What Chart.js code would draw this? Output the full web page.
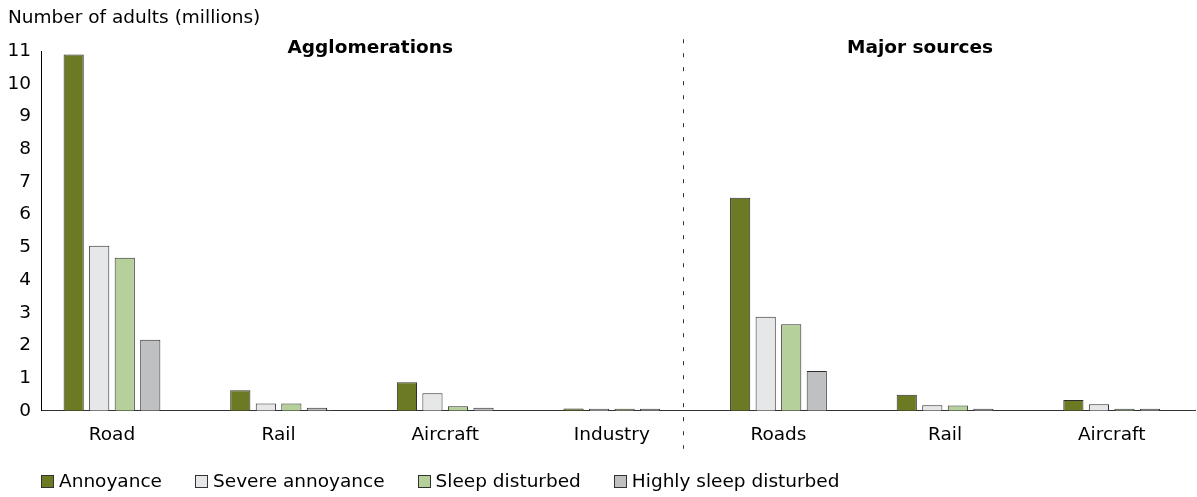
<!DOCTYPE html>
<html>
<head>
<meta charset="utf-8">
<script src="https://cdn.jsdelivr.net/npm/chart.js@4/dist/chart.umd.min.js"></script>
<style>
    body { margin: 0; background: #fff; font-family: "DejaVu Sans", Verdana, sans-serif; }
    #wrap { position: relative; width: 1197px; height: 497px; }
    #legend { position: absolute; left: 41px; top: 471px; display: flex; font-size: 18.5px; color: #000; line-height: 20px; }
    #legend .item { display: flex; align-items: center; margin-right: 33px; }
    #legend .box { width: 13px; height: 13px; border: 1px solid #333; margin-right: 5px; box-sizing: border-box; }
</style>
</head>
<body>
<div id="wrap">
    <canvas id="noiseChart"></canvas>
    <div id="legend"></div>
</div>
<script>
// Categorias (eje x) y series
const categories = ['Road', 'Rail', 'Aircraft', 'Industry', 'Roads', 'Rail', 'Aircraft'];
const annoyance = [10.9, 0.63, 0.87, 0.07, 6.52, 0.49, 0.33];
const severeAnnoyance = [5.05, 0.22, 0.54, 0.04, 2.88, 0.17, 0.2];
const sleepDisturbed = [4.68, 0.22, 0.14, 0.03, 2.65, 0.16, 0.05];
const highlySleepDisturbed = [2.17, 0.09, 0.09, 0.02, 1.22, 0.05, 0.04];
const yTicks = [0, 1, 2, 3, 4, 5, 6, 7, 8, 9, 10, 11];

const seriesNames = ['Annoyance', 'Severe annoyance', 'Sleep disturbed', 'Highly sleep disturbed'];
const seriesColors = ['#6b7a23', '#e6e7e8', '#b5d09a', '#bfc0c2'];

// Separador y titulos de seccion (en unidades del eje x)
const dividerAt = 3.43;
const sections = [
    { text: 'Agglomerations', at: 1.55 },
    { text: 'Major sources', at: 4.85 }
];

const FONT = '"DejaVu Sans", Verdana, sans-serif';
const FONT_SIZE = 18.5;

function toPoints(values) {
    return values.map((v, i) => ({ x: i, y: v }));
}

const allSeries = [annoyance, severeAnnoyance, sleepDisturbed, highlySleepDisturbed];

const sectionPlugin = {
    id: 'sections',
    afterDraw(chart) {
        const ctx = chart.ctx;
        const x = chart.scales.x;
        const area = chart.chartArea;
        ctx.save();
        // linea punteada
        const px = Math.round(x.getPixelForValue(dividerAt)) + 0.5;
        ctx.strokeStyle = '#333';
        ctx.lineWidth = 1;
        ctx.setLineDash([4, 10]);
        ctx.beginPath();
        ctx.moveTo(px, area.top - 12);
        ctx.lineTo(px, area.bottom + 38);
        ctx.stroke();
        // titulos
        ctx.setLineDash([]);
        ctx.fillStyle = '#000';
        ctx.font = 'bold ' + FONT_SIZE + 'px ' + FONT;
        ctx.textAlign = 'center';
        ctx.textBaseline = 'middle';
        sections.forEach(s => {
            ctx.fillText(s.text, x.getPixelForValue(s.at), area.top - 3);
        });
        ctx.restore();
    }
};

new Chart(document.getElementById('noiseChart'), {
    type: 'bar',
    data: {
        datasets: allSeries.map((values, i) => ({
            label: seriesNames[i],
            data: toPoints(values),
            backgroundColor: seriesColors[i],
            borderColor: '#2e2e2e',
            borderWidth: 1,
            minBarLength: 2,
            categoryPercentage: 0.613,
            barPercentage: 0.79
        }))
    },
    options: {
        responsive: true,
        maintainAspectRatio: false,
        animation: false,
        layout: { padding: { left: 8, right: 2, top: 7, bottom: 46 } },
        plugins: {
            legend: { display: false },
            tooltip: { enabled: false },
            title: {
                display: true,
                text: 'Number of adults (millions)',
                align: 'start',
                color: '#000',
                font: { family: FONT, size: FONT_SIZE, weight: 'normal' },
                padding: { top: 0, bottom: 22 }
            }
        },
        scales: {
            x: {
                type: 'linear',
                offset: false,
                min: -0.426,
                max: 6.5,
                grid: { display: false },
                border: { color: '#333', width: 1 },
                ticks: {
                    stepSize: 1,
                    includeBounds: false,
                    autoSkip: false,
                    maxRotation: 0,
                    padding: 5,
                    color: '#000',
                    font: { family: FONT, size: FONT_SIZE },
                    callback: v => Number.isInteger(v) ? categories[v] : null
                }
            },
            y: {
                min: 0,
                max: yTicks[yTicks.length - 1],
                grid: { display: false },
                border: { color: '#000', width: 1 },
                afterBuildTicks: axis => { axis.ticks = yTicks.map(v => ({ value: v })); },
                afterFit: axis => { axis.width = 33; },
                ticks: {
                    padding: 2,
                    color: '#000',
                    font: { family: FONT, size: FONT_SIZE }
                }
            }
        }
    },
    plugins: [sectionPlugin]
});

// Leyenda HTML
const legend = document.getElementById('legend');
seriesNames.forEach((name, i) => {
    const item = document.createElement('div');
    item.className = 'item';
    item.innerHTML = `<span class="box" style="background:${seriesColors[i]}"></span><span>${name}</span>`;
    legend.appendChild(item);
});
</script>
</body>
</html>
